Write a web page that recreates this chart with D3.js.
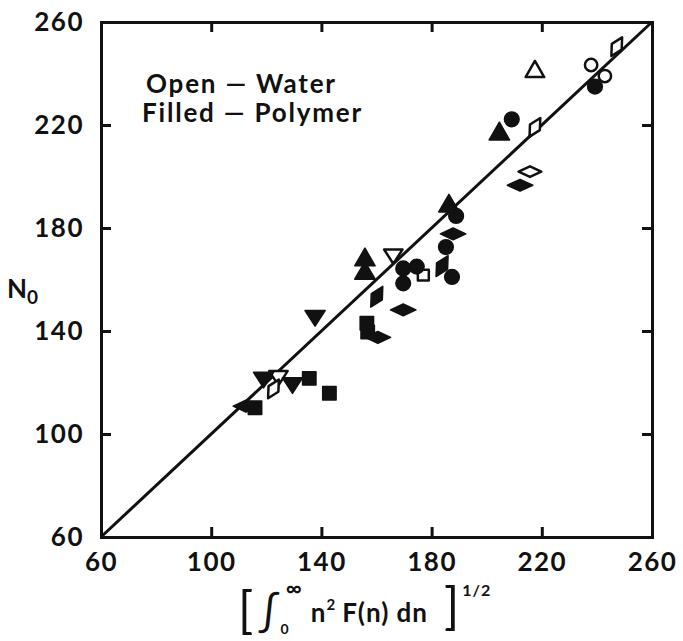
<!DOCTYPE html>
<html>
<head>
<meta charset="utf-8">
<script src="https://cdn.jsdelivr.net/npm/d3@7"></script>
<style>
  body { margin: 0; background: #fff; }
  text { font-family: Lato, "DejaVu Sans", sans-serif; font-weight: 700; fill: #111; }
  .axis path, .axis line { stroke: #111; stroke-width: 3; }
  .axis text { font-size: 26px; letter-spacing: 1.5px; }
</style>
</head>
<body>
<div id="chart"></div>
<script>
// tick values
const ticks = [60, 100, 140, 180, 220, 260];

// open symbols = water, filled symbols = polymer
const waterTriUp = [[217.5, 240.7]];
const waterTriDown = [[166.1, 169.5], [124.4, 122.3]];
const waterCircle = [[237.9, 243.3], [242.9, 239.0]];
const waterSquare = [[177.0, 161.7]];
const waterDiamondTall = [[247.2, 250.4], [217.5, 219.1], [122.6, 117.5]];
const waterDiamondWide = [[215.7, 201.9]];

const polyTriUp = [[204.6, 216.5], [186.3, 188.5], [155.8, 167.6], [155.8, 162.4]];
const polyTriDown = [[137.7, 145.6], [119.0, 121.6], [129.5, 119.5]];
const polyCircle = [[239.3, 234.9], [209.1, 222.2], [188.9, 184.7], [185.2, 172.6],
    [187.4, 161.0], [169.7, 164.3], [174.6, 165.0], [169.7, 158.5]];
const polySquare = [[135.6, 121.6], [142.9, 115.8], [115.9, 110.2], [156.5, 143.0], [156.8, 139.6]];
const polyDiamondTall = [[160.1, 153.3], [183.8, 165.2]];
const polyDiamondWide = [[212.1, 196.6], [187.8, 177.7], [169.7, 148.2], [160.5, 137.5], [112.6, 110.8]];

// 1:1 line
const fitLine = [[60, 60], [260, 260]];

const margin = { top: 22, right: 31, bottom: 104, left: 101 },
    width = 683 - margin.left - margin.right,
    height = 641 - margin.top - margin.bottom;

const svg = d3.select("#chart").append("svg")
    .attr("width", 683)
    .attr("height", 641);

const g = svg.append("g")
    .attr("transform", "translate(" + margin.left + "," + margin.top + ")");

const x = d3.scaleLinear().domain([60, 260]).range([0, width]);
const y = d3.scaleLinear().domain([60, 260]).range([height, 0]);

// axes, ticks point inward
g.append("g").attr("class", "axis")
    .attr("transform", "translate(0," + height + ")")
    .call(d3.axisBottom(x).tickValues(ticks).tickSize(-10).tickSizeOuter(0).tickPadding(16));
g.append("g").attr("class", "axis")
    .call(d3.axisLeft(y).tickValues(ticks).tickSize(-10).tickSizeOuter(0).tickPadding(17));
g.append("g").attr("class", "axis")
    .call(d3.axisTop(x).tickValues(ticks).tickSize(-10).tickSizeOuter(0).tickFormat(""));
g.append("g").attr("class", "axis")
    .attr("transform", "translate(" + width + ",0)")
    .call(d3.axisRight(y).tickValues(ticks).tickSize(-10).tickSizeOuter(0).tickFormat(""));
g.selectAll(".axis .domain").attr("stroke-linecap", "square");

// line
g.append("path")
    .datum(fitLine)
    .attr("fill", "none")
    .attr("stroke", "#111")
    .attr("stroke-width", 3)
    .attr("d", d3.line().x(d => x(d[0])).y(d => y(d[1])));

// custom shapes
const diamondTall = {
    draw(ctx, size) {
        const w = Math.sqrt(size) * 0.45, h = Math.sqrt(size) * 0.85;
        ctx.moveTo(0, -h); ctx.lineTo(w, 0); ctx.lineTo(0, h); ctx.lineTo(-w, 0); ctx.closePath();
    }
};
const diamondWide = {
    draw(ctx, size) {
        const w = Math.sqrt(size) * 0.9, h = Math.sqrt(size) * 0.42;
        ctx.moveTo(-w, 0); ctx.lineTo(0, -h); ctx.lineTo(w, 0); ctx.lineTo(0, h); ctx.closePath();
    }
};
const triDown = {
    draw(ctx, size) {
        const s = Math.sqrt(size) * 0.75;
        ctx.moveTo(-s, -s * 0.6); ctx.lineTo(s, -s * 0.6); ctx.lineTo(0, s * 0.95); ctx.closePath();
    }
};

function addPoints(data, type, size, filled, rotate) {
    g.append("g").selectAll("path")
        .data(data)
        .enter().append("path")
        .attr("d", d3.symbol().type(type).size(size))
        .attr("transform", d => "translate(" + x(d[0]) + "," + y(d[1]) + ")" + (rotate ? " rotate(" + rotate + ")" : ""))
        .attr("fill", filled ? "#111" : "#fff")
        .attr("stroke", "#111")
        .attr("stroke-width", filled ? 1.5 : 2.5)
        .attr("stroke-linejoin", "round");
}

addPoints(waterTriUp, d3.symbolTriangle, 150, false);
addPoints(waterTriDown, triDown, 150, false);
addPoints(waterCircle, d3.symbolCircle, 120, false);
addPoints(waterSquare, d3.symbolSquare, 120, false);
addPoints(waterDiamondTall, diamondTall, 160, false, 30);
addPoints(waterDiamondWide, diamondWide, 160, false);

addPoints(polyTriUp, d3.symbolTriangle, 180, true);
addPoints(polyTriDown, triDown, 180, true);
addPoints(polyCircle, d3.symbolCircle, 170, true);
addPoints(polySquare, d3.symbolSquare, 180, true);
addPoints(polyDiamondTall, diamondTall, 200, true, 30);
addPoints(polyDiamondWide, diamondWide, 200, true);

// legend text
svg.append("text").attr("x", 146).attr("y", 93)
    .style("font-size", "26px").style("letter-spacing", "1.8px")
    .text("Open \u2014 Water");
svg.append("text").attr("x", 142).attr("y", 122)
    .style("font-size", "26px").style("letter-spacing", "1.8px")
    .text("Filled \u2014 Polymer");

// y label
const yl = svg.append("text").attr("x", 7).attr("y", 298).style("font-size", "26px");
yl.append("tspan").text("N");
yl.append("tspan").attr("dy", 6).style("font-size", "19px").text("0");

// x label
const xl = svg.append("text").attr("x", 238).attr("y", 622)
    .style("font-size", "26px").style("letter-spacing", "1px");
xl.append("tspan").style("font-size", "50px").style("font-weight", 400).attr("dy", 6).text("[");
xl.append("tspan").style("font-size", "42px").style("font-weight", 400).attr("dx", 4).attr("dy", -2).text("\u222B");
xl.append("tspan").style("font-size", "14px").attr("dy", 8).text("0");
xl.append("tspan").style("font-size", "22px").attr("dx", -4).attr("dy", -38).text("\u221E");
xl.append("tspan").attr("dx", 8).attr("dy", 26).text("n");
xl.append("tspan").style("font-size", "15px").attr("dy", -12).text("2");
xl.append("tspan").attr("dx", 6).attr("dy", 12).text("F(n) dn");
xl.append("tspan").style("font-size", "50px").style("font-weight", 400).attr("dx", 16).attr("dy", 2).text("]");
xl.append("tspan").style("font-size", "16px").attr("dx", 2).attr("dy", -28).text("1/2");
</script>
</body>
</html>
